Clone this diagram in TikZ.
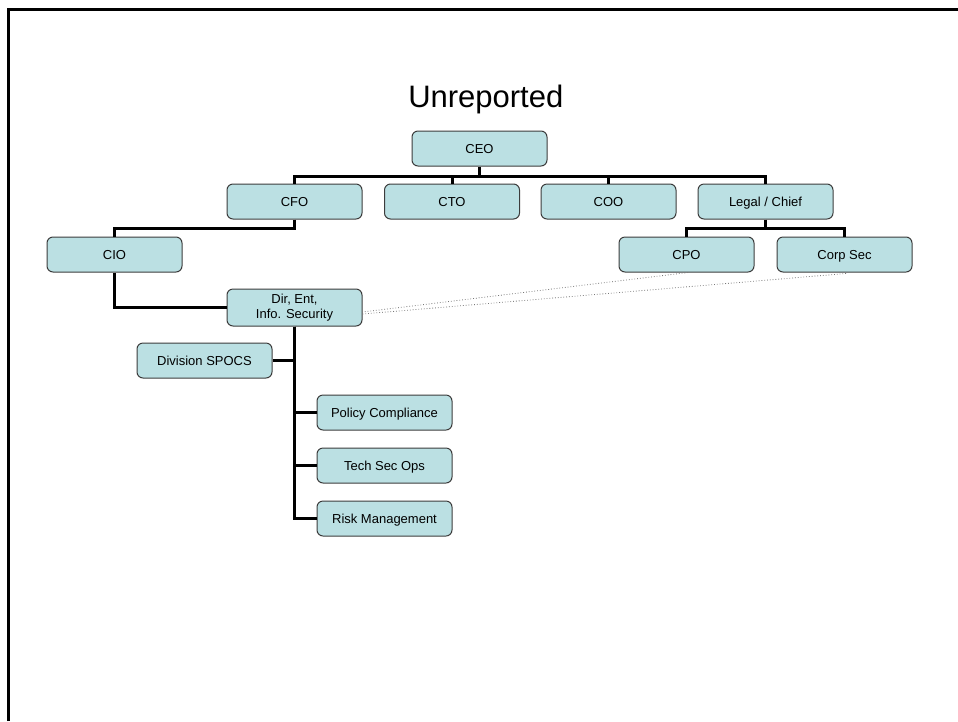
\documentclass[tikz,border=0pt]{standalone}
\usepackage{fontspec}
\setmainfont{Liberation Sans}
\usetikzlibrary{calc}
\definecolor{boxfill}{RGB}{187,224,227}
\definecolor{boxline}{RGB}{60,60,60}
\definecolor{dotline}{RGB}{120,120,120}
\begin{document}
\begin{tikzpicture}[x=1pt,y=-1pt,
  orgbase/.style={draw=boxline, line width=1pt, fill=boxfill, rounded corners=6pt,
    minimum width=135pt, minimum height=35pt, inner sep=0pt, align=center,
    font=\fontsize{13}{15}\selectfont},
  orgbox/.style={orgbase, text height=9.3pt, text depth=0pt},
  link/.style={draw=black, line width=3pt},
  dotted link/.style={draw=dotline, line width=0.8pt, dotted}]
\useasboundingbox (0,0) rectangle (958,721);
% page frame
\draw[line width=3pt] (8,721) -- (8,9) -- (958,9);
% title
\node[anchor=base, font=\fontsize{31}{37}\selectfont, inner sep=0pt] (title) at (485.8,107) {Unreported};
% boxes
\node[orgbox] (ceo) at (479.5,148.5) {CEO};
\node[orgbox] (cfo) at (294.5,201.5) {CFO};
\node[orgbox] (cto) at (452,201.5) {CTO};
\node[orgbox] (coo) at (608.5,201.5) {COO};
\node[orgbox] (legal) at (765.5,201.5) {Legal / Chief};
\node[orgbox] (cio) at (114.5,254.5) {CIO};
\node[orgbox] (cpo) at (686.5,254.5) {CPO};
\node[orgbox] (corpsec) at (844.5,254.5) {Corp Sec};
\node[orgbase, minimum height=37pt] (dir) at (294.5,307.5) {Dir, Ent,\\Info. Security};
\node[orgbox] (spocs) at (204.5,360.5) {Division SPOCS};
\node[orgbox] (policy) at (384.5,412.5) {Policy Compliance};
\node[orgbox] (tech) at (384.5,465.5) {Tech Sec Ops};
\node[orgbox] (risk) at (384.5,518.5) {Risk Management};
% bus coordinates
\coordinate (ceobus) at ($(ceo.south)+(0,9.5)$);
\coordinate (cfobus) at ($(cfo.south)+(0,9)$);
\coordinate (legalbus) at ($(legal.south)+(0,9)$);
% connectors
\draw[link] (ceo.south) -- (ceobus);
\draw[link] (cfo.north) |- (ceobus) -| (legal.north);
\draw[link] (cto.north) -- (cto.north |- ceobus);
\draw[link] (coo.north) -- (coo.north |- ceobus);
\draw[link] (cfo.south) |- (cfobus) -| (cio.north);
\draw[link] (legal.south) -- (legalbus);
\draw[link] (cpo.north) |- (legalbus) -| (corpsec.north);
\draw[link] (cio.south) |- (dir.west);
\draw[link] (dir.south) |- (risk.west);
\draw[link] (dir.south) |- (spocs.east);
\draw[link] (dir.south) |- (policy.west);
\draw[link] (dir.south) |- (tech.west);
% dotted reporting lines
\draw[dotted link] ($(cpo.south)+(1.5,0)$) -- ($(dir.east)+(0,4.5)$);
\draw[dotted link] ($(corpsec.south)+(1.5,1)$) -- ($(dir.east)+(0,6.5)$);
\end{tikzpicture}
\end{document}
